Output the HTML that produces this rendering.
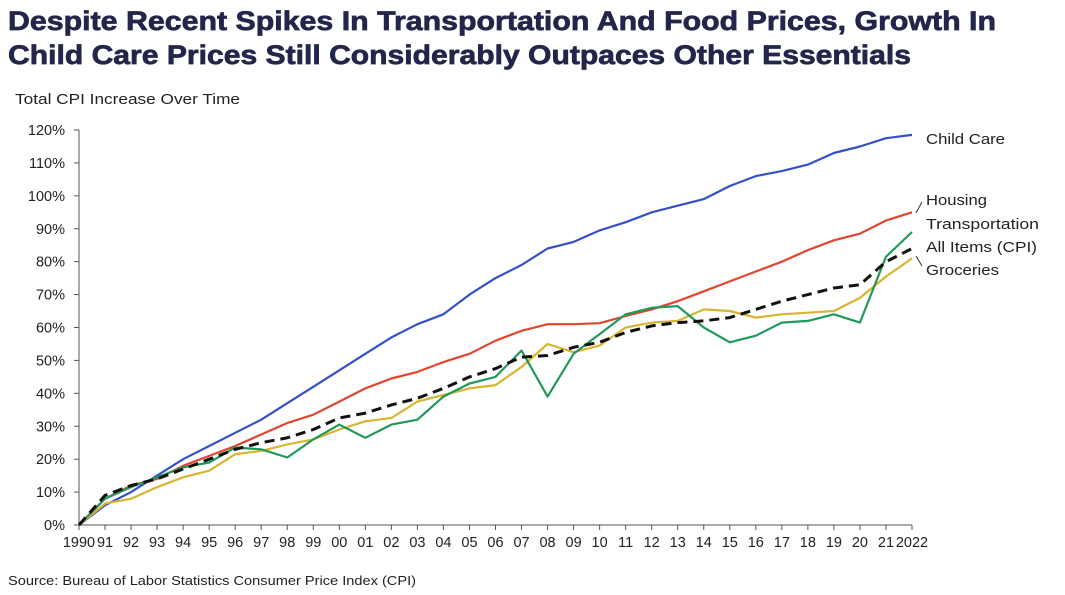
<!DOCTYPE html>
<html><head><meta charset="utf-8"><style>
body{margin:0;background:#fff;}
svg{display:block;font-family:"Liberation Sans",sans-serif;}
</style></head><body>
<svg id="chart" width="1065" height="595">
<text x="8" y="30" font-size="27" font-weight="bold" fill="#23264a" stroke="#23264a" stroke-width="0.7" textLength="988" lengthAdjust="spacingAndGlyphs">Despite Recent Spikes In Transportation And Food Prices, Growth In</text>
<text x="8" y="64" font-size="27" font-weight="bold" fill="#23264a" stroke="#23264a" stroke-width="0.7" textLength="903" lengthAdjust="spacingAndGlyphs">Child Care Prices Still Considerably Outpaces Other Essentials</text>
<text x="15" y="104" font-size="14.5" fill="#222" textLength="225" lengthAdjust="spacingAndGlyphs">Total CPI Increase Over Time</text>
<text x="8" y="585" font-size="13" fill="#222" textLength="408" lengthAdjust="spacingAndGlyphs">Source: Bureau of Labor Statistics Consumer Price Index (CPI)</text>
<g id="axes"></g>
<g id="series"></g>
<g id="labels"></g>
</svg>
<script>
const years=[1990,1991,1992,1993,1994,1995,1996,1997,1998,1999,2000,2001,2002,2003,2004,2005,2006,2007,2008,2009,2010,2011,2012,2013,2014,2015,2016,2017,2018,2019,2020,2021,2022];
const xTickLabels=["1990","91","92","93","94","95","96","97","98","99","00","01","02","03","04","05","06","07","08","09","10","11","12","13","14","15","16","17","18","19","20","21","2022"];
const yTicks=[0,10,20,30,40,50,60,70,80,90,100,110,120];
const childCare=[0,6,10,15,20,24,28,32,37,42,47,52,57,61,64,70,75,79,84,86,89.5,92,95,97,99,103,106,107.5,109.5,113,115,117.5,118.5];
const housing=[0,8,12,14,18,21,24,27.5,31,33.5,37.5,41.5,44.5,46.5,49.5,52,56,59,61,61,61.3,63.5,65.5,68,71,74,77,80,83.5,86.5,88.5,92.5,95];
const transportation=[0,8,11.5,14.5,17.5,19,23.5,23,20.5,26,30.5,26.5,30.5,32,39,43,45,53,39,52,58,64,66,66.5,60,55.5,57.5,61.5,62,64,61.5,81.5,89];
const allItems=[0,9,12,14,17,20,23,25,26.5,29,32.5,34,36.5,38.5,41.5,45,47.5,51,51.5,54,55.5,58.5,60.5,61.5,62,63,65.5,68,70,72,73,80,84];
const groceries=[0,6.5,8,11.5,14.5,16.5,21.5,22.5,24.5,26,29,31.5,32.5,37.5,39.5,41.5,42.5,48,55,52.5,54.5,60,61.5,62,65.5,65,63,64,64.5,65,69,75.5,81];

const NS="http://www.w3.org/2000/svg";
const X0=79,X1=912,Y0=525,Y1=130;
const x=yr=>X0+(yr-1990)*(X1-X0)/32;
const y=v=>Y0-v*(Y0-Y1)/120;
function mk(tag,attrs,parent){const e=document.createElementNS(NS,tag);for(const k in attrs)e.setAttribute(k,attrs[k]);parent.appendChild(e);return e;}
const axes=document.getElementById('axes');
let e=mk('line',{x1:X0,x2:X0,y1:Y1,y2:Y0,stroke:'#555','stroke-width':1},axes);


e=mk('line',{x1:X0,x2:X1,y1:Y0,y2:Y0,stroke:'#555','stroke-width':1},axes);


yTicks.forEach(v=>{
  mk('line',{x1:X0-5,x2:X0,y1:y(v),y2:y(v),stroke:'#555'},axes);
  const t=mk('text',{x:X0-14,y:y(v)+5,'text-anchor':'end','font-size':14.5,fill:'#222'},axes);
  t.textContent=v+'%';
  
  
});
years.forEach((yr,i)=>{
  mk('line',{x1:x(yr),x2:x(yr),y1:Y0,y2:Y0+5,stroke:'#555'},axes);
  const t=mk('text',{x:x(yr),y:Y0+22,'text-anchor':'middle','font-size':14.5,fill:'#222'},axes);
  t.textContent=xTickLabels[i];
  
  
});
const ser=document.getElementById('series');
function line(vals,color,name,dash,w){
  const d=vals.map((v,i)=>(i?'L':'M')+x(years[i]).toFixed(1)+','+y(v).toFixed(1)).join('');
  const p=mk('path',{d:d,fill:'none',stroke:color,'stroke-width':w,'stroke-linejoin':'round'},ser);
  if(dash)p.setAttribute('stroke-dasharray',dash);
  
  
}
line(childCare,'#3550c8','child-care-line',null,2.2);
line(housing,'#e0452e','housing-line',null,2.2);
line(groceries,'#d9b52f','groceries-line',null,2.2);
line(transportation,'#22985a','transportation-line',null,2.2);
line(allItems,'#111','all-items-cpi-line','10,6',3);
const lab=document.getElementById('labels');
[["Child Care",144,'child-care-label',79],["Housing",205,'housing-label',61],["Transportation",229,'transportation-label',113],["All Items (CPI)",252,'all-items-label',111],["Groceries",275,'groceries-label',73]].forEach(a=>{
  const t=mk('text',{x:926,y:a[1],'font-size':15,fill:'#222',textLength:a[3],lengthAdjust:'spacingAndGlyphs'},lab);
  t.textContent=a[0];
  
  
});
mk('line',{x1:916,y1:213,x2:922,y2:202,stroke:'#333'},lab);
mk('line',{x1:916,y1:256,x2:922,y2:266,stroke:'#333'},lab);
</script>
</body></html>
